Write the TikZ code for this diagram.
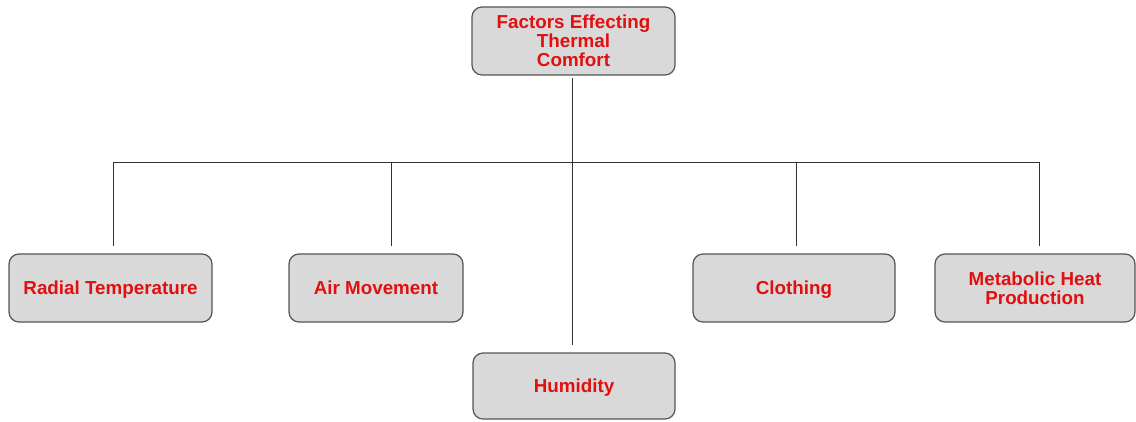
\documentclass[tikz,border=0pt]{standalone}
\usepackage{fontspec}
\setmainfont{Liberation Sans}
\definecolor{boxfill}{HTML}{D9D9D9}
\definecolor{boxline}{HTML}{555555}
\definecolor{txtred}{HTML}{E01010}
\definecolor{conn}{HTML}{333333}
\begin{document}
\begin{tikzpicture}[x=1pt,y=-1pt,
  factor/.style={draw=boxline, line width=1.2pt, fill=boxfill, rounded corners=10pt,
    text=txtred, font=\fontsize{18.8}{19}\selectfont\bfseries, align=center,
    inner sep=0pt, minimum height=68pt},
  oneline/.style={factor, text height=13.4pt, text depth=0pt},
  link/.style={draw=conn, line width=0.9pt}]
\useasboundingbox (0,0) rectangle (1136,421);
\node[factor, minimum width=203pt] (top) at (573.5,41) {Factors Effecting\\Thermal\\Comfort};
\node[oneline, minimum width=203pt] (rad) at (110.5,288) {Radial Temperature};
\node[oneline, minimum width=174pt] (air) at (376,288) {Air Movement};
\node[oneline, minimum width=202pt, minimum height=66pt] (hum) at (574,386) {Humidity};
\node[oneline, minimum width=202pt] (clo) at (794,288) {Clothing};
\node[factor, minimum width=200pt] (met) at (1035,288) {Metabolic Heat\\Production};
% connector end points
\coordinate (ts) at (572,78);
\coordinate (bl) at (113,162);
\coordinate (br) at (1039,162);
\coordinate (bm) at (572,162);
\coordinate (e1) at (113,246);
\coordinate (e2) at (391,246);
\coordinate (e3) at (572,345);
\coordinate (e4) at (796,246);
\coordinate (e5) at (1039,246);
\draw[link] (ts) -- (bm);
\draw[link] (bl) -- (br);
\draw[link] (e1) -- (bl);
\draw[link] (e5) -- (br);
\draw[link] (e2) -- (e2 |- bl);
\draw[link] (e4) -- (e4 |- bl);
\draw[link] (bm) -- (e3);
\end{tikzpicture}
\end{document}
